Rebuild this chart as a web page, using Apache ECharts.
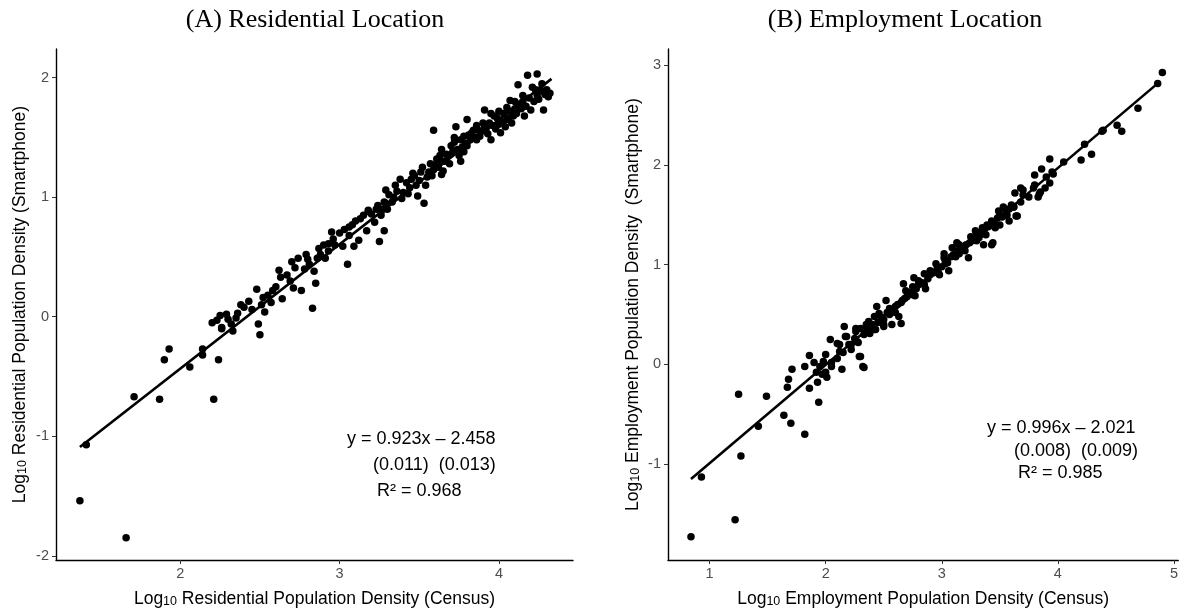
<!DOCTYPE html>
<html>
<head>
<meta charset="utf-8">
<script src="https://cdn.jsdelivr.net/npm/echarts@6/dist/echarts.min.js"></script>
<style>
html,body{margin:0;padding:0;background:#fff;}
#chart{width:1181px;height:613px;}
</style>
</head>
<body>
<div id="chart"></div>
<script>
// ---------- DATA ----------
const titles = ["(A) Residential Location", "(B) Employment Location"];
const xAxisNames = ["Residential Population Density (Census)", "Employment Population Density (Census)"];
const yAxisNames = ["Residential Population Density (Smartphone)", "Employment Population Density  (Smartphone)"];
const xTicksA = [2, 3, 4];
const yTicksA = [-2, -1, 0, 1, 2];
const xTicksB = [1, 2, 3, 4, 5];
const yTicksB = [-1, 0, 1, 2, 3];
const annotA = ["y = 0.923x \u2013 2.458", "(0.011)  (0.013)", "R\u00B2 = 0.968"];
const annotB = ["y = 0.996x \u2013 2.021", "(0.008)  (0.009)", "R\u00B2 = 0.985"];

// Residential: [census, smartphone] (log10)
const residentialPoints = [
[1.37,-1.54],[1.41,-1.07],[1.66,-1.85],[1.71,-0.67],[1.87,-0.69],[1.90,-0.36],[1.93,-0.27],[2.06,-0.42],[2.14,-0.32],[2.14,-0.27],[2.21,-0.69],[2.24,-0.36],[2.26,-0.10],[2.33,-0.12],[2.50,-0.15],
[2.23,-0.03],[2.25,0.01],[2.29,0.02],[2.30,-0.02],[2.36,0.03],[2.32,-0.06],[2.26,-0.09],[2.49,-0.06],[2.43,0.13],[2.48,0.23],[2.51,0.10],[2.53,0.04],[2.58,0.22],[2.64,0.15],[2.62,0.39],[2.63,0.33],[2.70,0.46],[2.71,0.24],[2.76,0.22],[2.72,0.41],[2.74,0.49],[2.79,0.52],[2.81,0.44],[2.84,0.38],[2.85,0.28],[2.83,0.07],[2.87,0.57],[2.86,0.49],[2.91,0.49],[2.93,0.61],[2.95,0.71],[2.97,0.60],[3.02,0.59],[3.05,0.44],[3.06,0.68],[3.08,0.77],[3.09,0.59],[3.12,0.64],[3.13,0.82],[3.18,0.88],[3.17,0.72],[3.22,0.79],[3.25,0.63],[3.27,0.90],[3.28,0.72],[3.29,0.95],[3.33,0.96],[3.29,1.06],
[2.40,0.08],[2.45,0.06],[2.55,0.18],[2.60,0.25],[2.67,0.35],[2.69,0.30],[2.78,0.40],[2.80,0.48],[2.88,0.52],[2.90,0.60],[2.96,0.65],[3.00,0.70],[3.03,0.73],[3.10,0.80],[3.15,0.85],[3.20,0.86],[3.23,0.90],[3.26,0.85],[2.20,-0.05],[2.35,-0.01],[2.38,0.10],[2.52,0.16],[2.57,0.12],[2.93,0.55],[3.06,0.75],
[3.18,0.89],[3.24,0.93],[3.28,0.96],[3.30,0.90],[3.26,0.88],[3.35,1.10],[3.38,1.15],[3.40,1.04],[3.49,1.01],[3.53,0.95],[3.47,1.18],[3.51,1.21],[3.55,1.17],[3.56,1.21],[3.59,1.23],[3.64,1.19],[3.65,1.22],[3.61,1.32],[3.64,1.40],[3.67,1.36],[3.70,1.43],[3.76,1.30],[3.72,1.46],[3.76,1.48],[3.78,1.51],[3.80,1.43],[3.82,1.48],[3.83,1.54],[3.84,1.56],[3.86,1.48],[3.88,1.51],[3.91,1.59],[3.94,1.62],[3.95,1.48],[3.97,1.68],[4.00,1.61],[4.01,1.54],[4.04,1.59],[4.05,1.65],[4.07,1.72],[4.09,1.68],[4.14,1.74],[4.16,1.68],[4.20,1.73],[4.07,1.81],[4.12,1.94],[4.18,2.02],[4.24,2.03],[4.21,1.92],[4.24,1.85],[4.28,1.88],[4.32,1.87],[4.28,1.73],[3.91,1.73],[3.80,1.65],[3.59,1.56],[3.73,1.59],[3.64,1.30],
[3.36,1.05],[3.42,1.12],[3.44,1.08],[3.45,1.15],[3.48,1.10],[3.50,1.14],[3.52,1.25],[3.57,1.28],[3.60,1.27],[3.62,1.25],[3.66,1.30],[3.68,1.35],[3.69,1.28],[3.71,1.38],[3.74,1.40],[3.75,1.35],[3.77,1.42],[3.79,1.45],[3.81,1.52],[3.85,1.50],[3.87,1.56],[3.89,1.55],[3.90,1.62],[3.92,1.58],[3.93,1.53],[3.96,1.60],[3.98,1.57],[3.99,1.66],[4.02,1.63],[4.03,1.70],[4.06,1.66],[4.08,1.62],[4.10,1.74],[4.11,1.70],[4.13,1.78],[4.15,1.80],[4.17,1.76],[4.19,1.83],[4.22,1.80],[4.23,1.90],[4.25,1.82],[4.27,1.95],[4.29,1.86],[4.30,1.90],[4.26,1.90],[4.31,1.84],[3.34,1.00],[3.31,1.02],[3.39,0.99],[3.43,1.03],[3.46,1.20],[3.54,1.10],[3.58,1.18],[3.63,1.35],[3.72,1.50],[3.78,1.38],[3.86,1.60],[3.95,1.70],[4.00,1.72],[4.05,1.75],[4.10,1.80],[4.15,1.85]
];
// Employment: [census, smartphone] (log10)
const employmentPoints = [
[0.84,-1.73],[0.93,-1.13],[1.22,-1.56],[1.25,-0.30],[1.27,-0.92],[1.42,-0.62],[1.49,-0.32],[1.64,-0.51],[1.70,-0.59],[1.68,-0.15],[1.67,-0.23],[1.71,-0.05],[1.82,-0.70],[1.82,-0.02],[1.86,0.09],[1.86,-0.24],[1.90,0.02],[1.92,-0.08],[1.94,-0.38],[1.97,-0.10],[2.01,-0.13],[2.00,0.10],[2.05,-0.02],[2.04,0.25],[2.10,0.21],[2.14,-0.05],[2.12,0.13],[2.17,0.28],[2.22,0.20],[2.26,0.33],[2.30,0.08],[2.33,-0.03],[2.30,0.36],[2.37,0.35],[2.43,0.35],[2.50,0.38],
[1.93,-0.18],[2.00,-0.08],[2.12,0.20],[2.16,0.38],[2.18,0.28],[2.26,0.36],[2.29,0.08],[2.32,-0.02],[2.27,0.23],[2.35,0.40],[2.37,0.43],[2.42,0.48],[2.46,0.51],[2.44,0.58],[2.50,0.40],[2.57,0.40],[2.52,0.64],[2.55,0.56],[2.60,0.58],[2.63,0.48],[2.65,0.41],[2.66,0.64],[2.69,0.74],[2.67,0.81],[2.75,0.78],[2.77,0.69],[2.76,0.87],[2.80,0.84],[2.86,0.76],[2.85,0.91],[2.90,0.94],[2.95,1.01],[2.97,0.92],[3.03,1.01],[3.06,0.94],[3.02,1.07],
[3.02,1.11],[3.09,1.17],[3.13,1.22],[3.15,1.11],[3.20,1.14],[3.23,1.07],[3.26,1.24],[3.29,1.34],[3.32,1.27],[3.35,1.37],[3.36,1.20],[3.39,1.40],[3.43,1.44],[3.43,1.20],[3.46,1.37],[3.50,1.40],[3.49,1.54],[3.53,1.58],[3.56,1.50],[3.58,1.44],[3.62,1.58],[3.63,1.72],[3.65,1.49],[3.68,1.77],[3.68,1.63],[3.75,1.68],[3.79,1.77],[3.80,1.90],[3.83,1.68],[3.85,1.73],[3.86,1.96],[3.89,1.77],[3.93,2.06],[3.95,1.93],[3.93,1.82],[4.05,2.03],[4.20,2.05],[4.23,2.21],[4.29,2.11],[4.38,2.34],[4.55,2.34],
[4.90,2.93],[4.86,2.82],[4.69,2.57],[4.51,2.40],[4.39,2.35],[3.96,1.91],[3.84,1.71],[3.70,1.75],[3.64,1.49],[3.44,1.22],
[2.40,0.40],[2.45,0.42],[2.48,0.47],[2.53,0.52],[2.55,0.50],[2.58,0.55],[2.62,0.60],[2.65,0.62],[2.68,0.66],[2.70,0.68],[2.72,0.72],[2.78,0.76],[2.80,0.80],[2.83,0.82],[2.88,0.86],[2.90,0.90],[2.93,0.92],[2.96,0.96],[3.00,0.98],[3.03,1.04],[3.05,1.02],[3.08,1.08],[3.10,1.10],[3.12,1.08],[3.14,1.14],[3.17,1.16],[3.19,1.18],[3.21,1.20],[3.24,1.22],[3.27,1.25],[3.29,1.28],[3.30,1.24],[3.33,1.30],[3.35,1.33],[3.37,1.36],[3.40,1.38],[3.42,1.40],[3.45,1.43],[3.48,1.47],[3.50,1.50],[3.52,1.48],[3.55,1.55],[3.58,1.56],[3.60,1.60],[3.62,1.58],[2.20,0.20],[2.25,0.26],[2.28,0.22],[2.33,0.30],[2.35,0.34],[2.38,0.31],[2.10,0.06],[2.05,0.02],[2.15,0.12],[1.95,-0.02],[1.98,0.03],[2.22,0.15],[2.42,0.35],[2.50,0.45],[2.60,0.52],[2.75,0.70],[2.85,0.80],[2.98,0.90],[3.15,1.20],[3.25,1.28],[3.38,1.30],[3.46,1.38],[3.56,1.50],[3.70,1.70],[3.80,1.80],[3.90,1.88]
];
// fitted lines (endpoints)
const fitLineA = [[1.37,-1.09],[4.33,1.99]];
const fitLineB = [[0.84,-1.15],[4.87,2.83]];

// ---------- CHART ----------
const chart = echarts.init(document.getElementById('chart'), null, {renderer:'canvas'});
const sans = "'Liberation Sans', Arial, sans-serif";
const serif = "'Liberation Serif', 'Times New Roman', serif";

function axisNameText(s){ return '{m|Log}{s|10}{m| ' + s + '}'; }
const nameRich = {
  m:{fontSize:17.5, fontFamily:sans, color:'#000', lineHeight:18, verticalAlign:'middle'},
  s:{fontSize:12.5, fontFamily:sans, color:'#000', lineHeight:13, verticalAlign:'bottom', padding:[9,0,0,0]}
};
function xAx(grid, min, max, ticks, name){
  return {
    type:'value', gridIndex:grid, min:min, max:max,
    name:axisNameText(name), nameLocation:'middle', nameGap:21,
    nameTextStyle:{rich:nameRich},
    axisLine:{show:true, onZero:false, lineStyle:{color:'#000', width:1.4}},
    axisTick:{show:true, customValues:ticks, length:4, lineStyle:{color:'#333', width:1}},
    axisLabel:{show:true, customValues:ticks, margin:6, fontSize:14.5, color:'#4D4D4D', fontFamily:sans},
    splitLine:{show:false}
  };
}
function yAx(grid, min, max, ticks, name, gap){
  return {
    type:'value', gridIndex:grid, min:min, max:max,
    name:axisNameText(name), nameLocation:'middle', nameGap:gap, nameRotate:90,
    nameTextStyle:{rich:nameRich},
    axisLine:{show:true, onZero:false, lineStyle:{color:'#000', width:1.4}},
    axisTick:{show:true, customValues:ticks, length:4, lineStyle:{color:'#333', width:1}},
    axisLabel:{show:true, customValues:ticks, margin:7, fontSize:14.5, color:'#4D4D4D', fontFamily:sans},
    splitLine:{show:false}
  };
}
function annot(lines, lefts, tops){
  return lines.map((t,i)=>({
    type:'text', left:lefts[i], top:tops[i],
    style:{text:t, font:'18px ' + sans, fill:'#000'}
  }));
}

const option = {
  animation:false,
  backgroundColor:'#fff',
  title:[
    {text:titles[0], left:310, top:2, textAlign:'center', textStyle:{fontFamily:serif, fontSize:26, fontWeight:'normal', color:'#000'}},
    {text:titles[1], left:900, top:2, textAlign:'center', textStyle:{fontFamily:serif, fontSize:26, fontWeight:'normal', color:'#000'}}
  ],
  grid:[
    {left:56, top:49, width:517, height:518, containLabel:false},
    {left:668, top:49, width:512, height:518, containLabel:false}
  ],
  xAxis:[
    xAx(0, 1.22, 4.465, xTicksA, xAxisNames[0]),
    xAx(1, 0.642, 5.037, xTicksB, xAxisNames[1])
  ],
  yAxis:[
    yAx(0, -2.036, 2.24, yTicksA, yAxisNames[0], 27),
    yAx(1, -1.964, 3.165, yTicksB, yAxisNames[1], 26)
  ],
  series:[
    {type:'scatter', xAxisIndex:0, yAxisIndex:0, data:residentialPoints, symbolSize:7.5, itemStyle:{color:'#000', opacity:1}, silent:true},
    {type:'line', xAxisIndex:0, yAxisIndex:0, data:fitLineA, showSymbol:false, symbol:'none', lineStyle:{color:'#000', width:2.6}, silent:true, z:3},
    {type:'scatter', xAxisIndex:1, yAxisIndex:1, data:employmentPoints, symbolSize:7.5, itemStyle:{color:'#000', opacity:1}, silent:true},
    {type:'line', xAxisIndex:1, yAxisIndex:1, data:fitLineB, showSymbol:false, symbol:'none', lineStyle:{color:'#000', width:2.6}, silent:true, z:3}
  ],
  graphic:[].concat(
    annot(annotA, [347, 373, 377], [430, 456, 482]),
    annot(annotB, [987, 1014, 1018], [419, 442, 464])
  )
};
chart.setOption(option);
</script>
</body>
</html>
